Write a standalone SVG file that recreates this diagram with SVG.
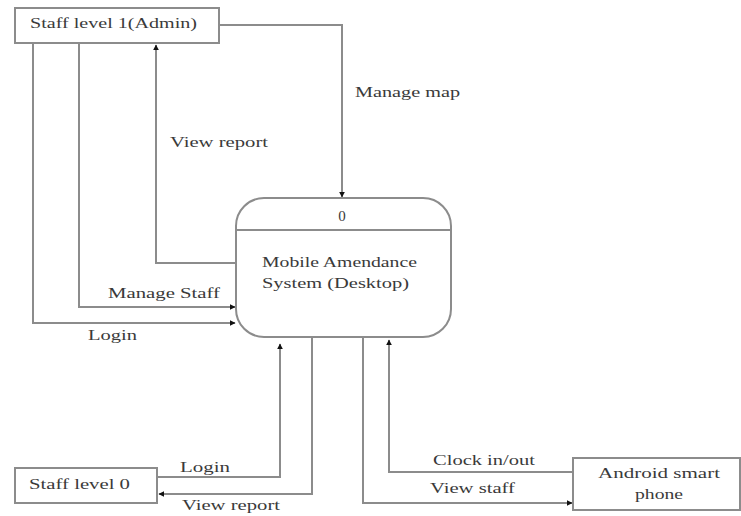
<svg xmlns="http://www.w3.org/2000/svg" width="741" height="516" viewBox="0 0 741 516">
<style>
.box{fill:#fff;stroke:#8c8c8c;stroke-width:2}
.ln{fill:none;stroke:#8c8c8c;stroke-width:2;marker-end:url(#ah)}
.ln0{fill:none;stroke:#8c8c8c;stroke-width:2}
text{font-family:"Liberation Serif","Times New Roman",serif;font-size:15px;fill:#3a3a3a}
</style>
<defs>
<marker id="ah" viewBox="0 0 10 10" refX="9" refY="5" markerWidth="3" markerHeight="3" orient="auto" markerUnits="strokeWidth">
<path d="M0,0 L10,5 L0,10 z" fill="#111"/>
</marker>
</defs>
<rect width="741" height="516" fill="#fff"/>
<g id="connectors">
<path class="ln" d="M219,25 H342 V197"/>
<path class="ln" d="M236,263 H156 V45"/>
<path class="ln" d="M79,43 V307 H235"/>
<path class="ln" d="M33,43 V323 H235"/>
<path class="ln" d="M157,477 H280 V344"/>
<path class="ln" d="M312,338 V494 H159"/>
<path class="ln" d="M363,338 V503 H572"/>
<path class="ln" d="M573,472 H389 V340"/>
<text x="355" y="97" textLength="105" lengthAdjust="spacingAndGlyphs">Manage map</text>
<text x="170" y="147" textLength="98" lengthAdjust="spacingAndGlyphs">View report</text>
<text x="108" y="298" textLength="112" lengthAdjust="spacingAndGlyphs">Manage Staff</text>
<text x="88" y="340" textLength="49" lengthAdjust="spacingAndGlyphs">Login</text>
<text x="180" y="472" textLength="50" lengthAdjust="spacingAndGlyphs">Login</text>
<text x="182" y="510" textLength="98" lengthAdjust="spacingAndGlyphs">View report</text>
<text x="433" y="465" textLength="102" lengthAdjust="spacingAndGlyphs">Clock in/out</text>
<text x="430" y="493" textLength="85" lengthAdjust="spacingAndGlyphs">View staff</text>
</g>
<g id="admin">
<rect class="box" x="15" y="8" width="204" height="35"/>
<text x="30" y="28" textLength="167" lengthAdjust="spacingAndGlyphs">Staff level 1(Admin)</text>
</g>
<g id="process">
<rect class="box" x="236" y="198" width="215" height="139" rx="28" ry="28"/>
<line class="ln0" x1="236" y1="230" x2="451" y2="230"/>
<text x="342" y="221" text-anchor="middle">0</text>
<text x="262" y="267" textLength="155" lengthAdjust="spacingAndGlyphs">Mobile Amendance</text>
<text x="262" y="288" textLength="147" lengthAdjust="spacingAndGlyphs">System (Desktop)</text>
</g>
<g id="staff0">
<rect class="box" x="15" y="468" width="142" height="35"/>
<text x="29" y="489" textLength="101" lengthAdjust="spacingAndGlyphs">Staff level 0</text>
</g>
<g id="android">
<rect class="box" x="573" y="458" width="167" height="52"/>
<text x="598" y="478" textLength="122" lengthAdjust="spacingAndGlyphs">Android smart</text>
<text x="635" y="499" textLength="48" lengthAdjust="spacingAndGlyphs">phone</text>
</g>
</svg>
